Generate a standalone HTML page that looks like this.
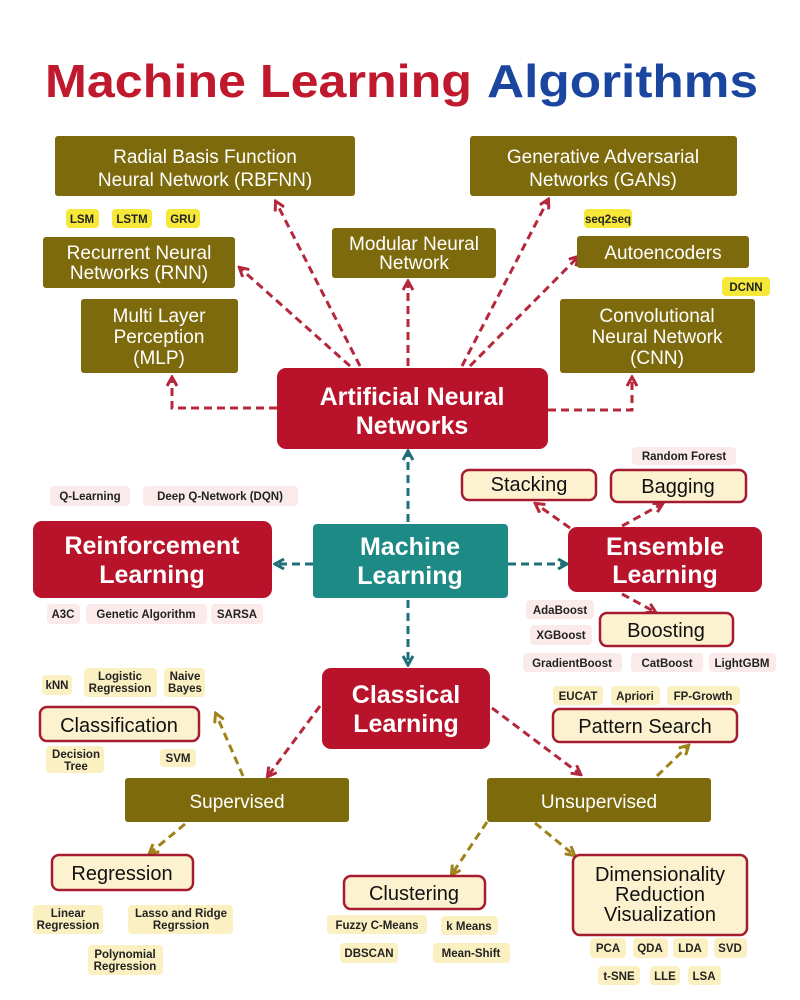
<!DOCTYPE html>
<html><head><meta charset="utf-8"><style>
html,body{margin:0;padding:0;background:#fff;}
svg{display:block;font-family:"Liberation Sans",sans-serif;}
.o{fill:#7d6a0c;}
.ot{fill:#fff;font-size:19px;text-anchor:middle;}
.rb{fill:#b8132a;}
.rt{fill:#fff;font-size:25px;font-weight:bold;text-anchor:middle;}
.cr{fill:#fdf2d0;stroke:#a51c30;stroke-width:2.5;}
.ct{fill:#111;font-size:20px;text-anchor:middle;}
.ty{fill:#f6e838;}
.tc{fill:#fbf0c2;}
.tp{fill:#fbeaea;}
.tt{fill:#222;font-size:11.5px;font-weight:bold;text-anchor:middle;}
.lr{stroke:#b5283c;stroke-width:3;stroke-dasharray:8 5;fill:none;marker-end:url(#mr);}
.lt{stroke:#1f6f78;stroke-width:3;stroke-dasharray:8 5;fill:none;marker-end:url(#mt);}
.lo{stroke:#a0821a;stroke-width:3;stroke-dasharray:8 5;fill:none;marker-end:url(#mo);}
</style></head><body>
<svg width="800" height="1000" viewBox="0 0 800 1000" xmlns="http://www.w3.org/2000/svg">
<defs>
<marker id="mr" markerWidth="12" markerHeight="12" refX="9" refY="6" orient="auto" markerUnits="userSpaceOnUse"><path d="M1,1 L10,6 L1,11" fill="none" stroke="#b5283c" stroke-width="3"/></marker>
<marker id="mt" markerWidth="12" markerHeight="12" refX="9" refY="6" orient="auto" markerUnits="userSpaceOnUse"><path d="M1,1 L10,6 L1,11" fill="none" stroke="#1f6f78" stroke-width="3"/></marker>
<marker id="mo" markerWidth="12" markerHeight="12" refX="9" refY="6" orient="auto" markerUnits="userSpaceOnUse"><path d="M1,1 L10,6 L1,11" fill="none" stroke="#a0821a" stroke-width="3"/></marker>
</defs>

<text x="45" y="97" font-size="46" font-weight="bold" fill="#c0182c" textLength="427" lengthAdjust="spacingAndGlyphs">Machine Learning</text>
<text x="487" y="97" font-size="46" font-weight="bold" fill="#1a46a0" textLength="271" lengthAdjust="spacingAndGlyphs">Algorithms</text>

<path class="lr" d="M360,366 L276,202"/>
<path class="lr" d="M350,366 L240,268"/>
<path class="lr" d="M277,408 L172,408 L172,378"/>
<path class="lr" d="M408,366 L408,282"/>
<path class="lr" d="M462,366 L548,200"/>
<path class="lr" d="M470,366 L578,257"/>
<path class="lr" d="M548,410 L632,410 L632,378"/>
<path class="lt" d="M408,522 L408,452"/>
<path class="lt" d="M313,564 L276,564"/>
<path class="lt" d="M508,564 L566,564"/>
<path class="lt" d="M408,600 L408,664"/>
<path class="lr" d="M570,528 L536,504"/>
<path class="lr" d="M622,526 L662,504"/>
<path class="lr" d="M622,594 L655,612"/>
<path class="lr" d="M320,706 L268,776"/>
<path class="lr" d="M492,708 L580,774"/>
<path class="lo" d="M243,776 L216,714"/>
<path class="lo" d="M185,824 L150,853"/>
<path class="lo" d="M657,776 L688,746"/>
<path class="lo" d="M487,822 L452,874"/>
<path class="lo" d="M535,823 L574,855"/>

<rect class="o" x="55" y="136" width="300" height="60" rx="3"/>
<text class="ot" x="205" y="163">Radial Basis Function</text><text class="ot" x="205" y="186">Neural Network (RBFNN)</text>
<rect class="o" x="470" y="136" width="267" height="60" rx="3"/>
<text class="ot" x="603" y="163">Generative Adversarial</text><text class="ot" x="603" y="186">Networks (GANs)</text>
<rect class="o" x="43" y="237" width="192" height="51" rx="3"/>
<text class="ot" x="139" y="259" font-size="18">Recurrent Neural</text><text class="ot" x="139" y="279" font-size="18">Networks (RNN)</text>
<rect class="o" x="332" y="228" width="164" height="50" rx="3"/>
<text class="ot" x="414" y="250" font-size="17">Modular Neural</text><text class="ot" x="414" y="269" font-size="17">Network</text>
<rect class="o" x="577" y="236" width="172" height="32" rx="3"/>
<text class="ot" x="663" y="259">Autoencoders</text>
<rect class="o" x="81" y="299" width="157" height="74" rx="3"/>
<text class="ot" x="159" y="322" font-size="18">Multi Layer</text><text class="ot" x="159" y="343" font-size="18">Perception</text><text class="ot" x="159" y="364" font-size="18">(MLP)</text>
<rect class="o" x="560" y="299" width="195" height="74" rx="3"/>
<text class="ot" x="657" y="322" font-size="18">Convolutional</text><text class="ot" x="657" y="343" font-size="18">Neural Network</text><text class="ot" x="657" y="364" font-size="18">(CNN)</text>

<rect class="ty" x="66" y="209" width="33" height="19" rx="4"/><text class="tt" x="82" y="223">LSM</text>
<rect class="ty" x="112" y="209" width="40" height="19" rx="4"/><text class="tt" x="132" y="223">LSTM</text>
<rect class="ty" x="166" y="209" width="34" height="19" rx="4"/><text class="tt" x="183" y="223">GRU</text>
<rect class="ty" x="584" y="209" width="48" height="19" rx="4"/><text class="tt" x="608" y="223">seq2seq</text>
<rect class="ty" x="722" y="277" width="48" height="19" rx="4"/><text class="tt" x="746" y="291">DCNN</text>

<rect class="rb" x="277" y="368" width="271" height="81" rx="9"/>
<text class="rt" x="412" y="405">Artificial Neural</text><text class="rt" x="412" y="434">Networks</text>
<rect class="rb" x="33" y="521" width="239" height="77" rx="9"/>
<text class="rt" x="152" y="554">Reinforcement</text><text class="rt" x="152" y="583">Learning</text>
<rect x="313" y="524" width="195" height="74" rx="4" fill="#1e8a86"/>
<text class="rt" x="410" y="555">Machine</text><text class="rt" x="410" y="584">Learning</text>
<rect class="rb" x="568" y="527" width="194" height="65" rx="9"/>
<text class="rt" x="665" y="555">Ensemble</text><text class="rt" x="665" y="583">Learning</text>
<rect class="rb" x="322" y="668" width="168" height="81" rx="9"/>
<text class="rt" x="406" y="703">Classical</text><text class="rt" x="406" y="732">Learning</text>

<rect class="tp" x="50" y="486" width="80" height="20" rx="4"/><text class="tt" x="90" y="500">Q-Learning</text>
<rect class="tp" x="143" y="486" width="155" height="20" rx="4"/><text class="tt" x="220" y="500">Deep Q-Network (DQN)</text>
<rect class="tp" x="47" y="604" width="33" height="20" rx="4"/><text class="tt" x="63" y="618">A3C</text>
<rect class="tp" x="86" y="604" width="121" height="20" rx="4"/><text class="tt" x="146" y="618">Genetic Algorithm</text>
<rect class="tp" x="211" y="604" width="52" height="20" rx="4"/><text class="tt" x="237" y="618">SARSA</text>

<rect class="cr" x="462" y="470" width="134" height="30" rx="7"/><text class="ct" x="529" y="491">Stacking</text>
<rect class="tp" x="632" y="447" width="104" height="18" rx="4"/><text class="tt" x="684" y="460">Random Forest</text>
<rect class="cr" x="611" y="470" width="135" height="32" rx="7"/><text class="ct" x="678" y="493">Bagging</text>
<rect class="tp" x="526" y="600" width="68" height="19" rx="4"/><text class="tt" x="560" y="614">AdaBoost</text>
<rect class="tp" x="530" y="625" width="62" height="20" rx="4"/><text class="tt" x="561" y="639">XGBoost</text>
<rect class="cr" x="600" y="613" width="133" height="33" rx="7"/><text class="ct" x="666" y="637">Boosting</text>
<rect class="tp" x="523" y="653" width="99" height="19" rx="4"/><text class="tt" x="572" y="667">GradientBoost</text>
<rect class="tp" x="631" y="653" width="72" height="19" rx="4"/><text class="tt" x="667" y="667">CatBoost</text>
<rect class="tp" x="709" y="653" width="67" height="19" rx="4"/><text class="tt" x="742" y="667">LightGBM</text>

<rect class="tc" x="553" y="686" width="50" height="19" rx="4"/><text class="tt" x="578" y="700">EUCAT</text>
<rect class="tc" x="611" y="686" width="49" height="19" rx="4"/><text class="tt" x="635" y="700">Apriori</text>
<rect class="tc" x="667" y="686" width="73" height="19" rx="4"/><text class="tt" x="703" y="700">FP-Growth</text>
<rect class="cr" x="553" y="709" width="184" height="33" rx="7"/><text class="ct" x="645" y="733">Pattern Search</text>

<rect class="tc" x="42" y="675" width="30" height="20" rx="4"/><text class="tt" x="57" y="689">kNN</text>
<rect class="tc" x="84" y="668" width="73" height="29" rx="4"/><text class="tt" x="120" y="680">Logistic</text><text class="tt" x="120" y="692">Regression</text>
<rect class="tc" x="164" y="668" width="41" height="29" rx="4"/><text class="tt" x="185" y="680">Naive</text><text class="tt" x="185" y="692">Bayes</text>
<rect class="cr" x="40" y="707" width="159" height="34" rx="7"/><text class="ct" x="119" y="732">Classification</text>
<rect class="tc" x="46" y="746" width="58" height="27" rx="4"/><text class="tt" x="76" y="758">Decision</text><text class="tt" x="76" y="770">Tree</text>
<rect class="tc" x="160" y="749" width="36" height="18" rx="4"/><text class="tt" x="178" y="762">SVM</text>

<rect class="o" x="125" y="778" width="224" height="44" rx="3"/><text class="ot" x="237" y="808" font-size="24">Supervised</text>
<rect class="o" x="487" y="778" width="224" height="44" rx="3"/><text class="ot" x="599" y="808" font-size="24">Unsupervised</text>

<rect class="cr" x="52" y="855" width="141" height="35" rx="7"/><text class="ct" x="122" y="880">Regression</text>
<rect class="tc" x="33" y="905" width="70" height="29" rx="4"/><text class="tt" x="68" y="917">Linear</text><text class="tt" x="68" y="929">Regression</text>
<rect class="tc" x="128" y="905" width="105" height="29" rx="4"/><text class="tt" x="181" y="917">Lasso and Ridge</text><text class="tt" x="181" y="929">Regrssion</text>
<rect class="tc" x="88" y="945" width="75" height="30" rx="4"/><text class="tt" x="125" y="958">Polynomial</text><text class="tt" x="125" y="970">Regression</text>

<rect class="cr" x="344" y="876" width="141" height="33" rx="7"/><text class="ct" x="414" y="900">Clustering</text>
<rect class="tc" x="327" y="915" width="100" height="19" rx="4"/><text class="tt" x="377" y="929">Fuzzy C-Means</text>
<rect class="tc" x="441" y="916" width="57" height="19" rx="4"/><text class="tt" x="469" y="930">k Means</text>
<rect class="tc" x="340" y="943" width="58" height="20" rx="4"/><text class="tt" x="369" y="957">DBSCAN</text>
<rect class="tc" x="433" y="943" width="77" height="20" rx="4"/><text class="tt" x="471" y="957">Mean-Shift</text>

<rect class="cr" x="573" y="855" width="174" height="80" rx="7"/>
<text class="ct" x="660" y="881">Dimensionality</text><text class="ct" x="660" y="901">Reduction</text><text class="ct" x="660" y="921">Visualization</text>
<rect class="tc" x="590" y="938" width="36" height="20" rx="4"/><text class="tt" x="608" y="952">PCA</text>
<rect class="tc" x="633" y="938" width="35" height="20" rx="4"/><text class="tt" x="650" y="952">QDA</text>
<rect class="tc" x="673" y="938" width="35" height="20" rx="4"/><text class="tt" x="690" y="952">LDA</text>
<rect class="tc" x="714" y="938" width="33" height="20" rx="4"/><text class="tt" x="730" y="952">SVD</text>
<rect class="tc" x="598" y="966" width="42" height="19" rx="4"/><text class="tt" x="619" y="980">t-SNE</text>
<rect class="tc" x="650" y="966" width="30" height="19" rx="4"/><text class="tt" x="665" y="980">LLE</text>
<rect class="tc" x="688" y="966" width="33" height="19" rx="4"/><text class="tt" x="704" y="980">LSA</text>
</svg>
</body></html>
